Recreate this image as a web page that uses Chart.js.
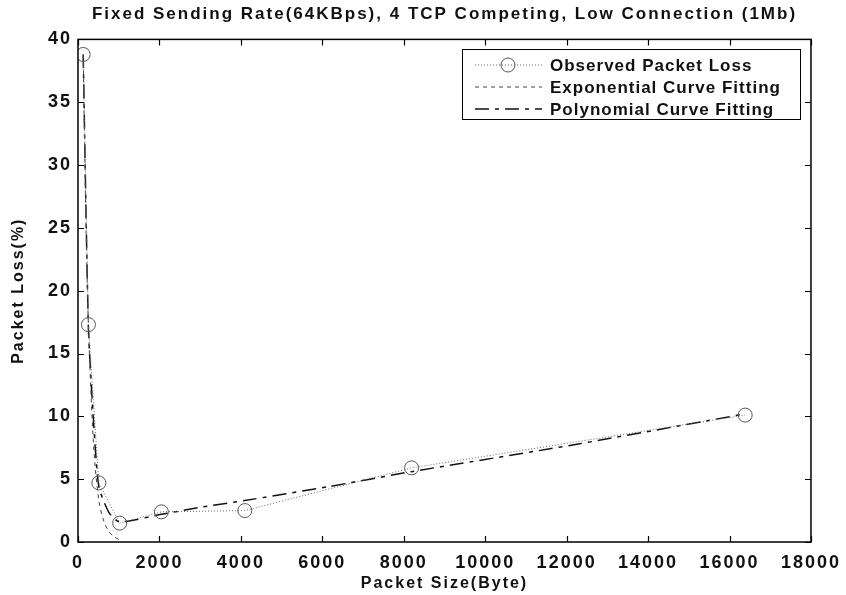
<!DOCTYPE html>
<html>
<head>
<meta charset="utf-8">
<script src="https://cdn.jsdelivr.net/npm/chart.js@4.4.1/dist/chart.umd.min.js"></script>
<style>
  html, body { margin: 0; padding: 0; background: #fff; }
  canvas { display: block; }
</style>
</head>
<body>
<canvas id="loss" width="846" height="595"></canvas>
<script>
// observed measurements
const packetSizes = [128, 256, 512, 1024, 2048, 4096, 8192, 16384];
const observedLoss = [38.8, 17.3, 4.7, 1.5, 2.4, 2.5, 5.9, 10.1];

// exponential fit
const expSizes = [128, 192, 256, 384, 512, 640, 768, 896, 1000];
const expLoss = [38.8, 26.0, 17.2, 7.6, 3.3, 1.6, 0.8, 0.4, 0.2];

// polynomial fit
const polySizes = [128, 256, 384, 512, 768, 1024, 2048, 3072, 4096, 6144, 8192, 12288, 16384];
const polyLoss = [38.8, 17.0, 9.5, 4.4, 2.3, 1.6, 2.2, 2.8, 3.3, 4.4, 5.6, 7.8, 10.2];

const xTicks = [0, 2000, 4000, 6000, 8000, 10000, 12000, 14000, 16000, 18000];
const yTicks = [0, 5, 10, 15, 20, 25, 30, 35, 40];

const legendNames = ["Observed Packet Loss", "Exponential Curve Fitting", "Polynomial Curve Fitting"];

const FONT = "'Liberation Sans', Arial, sans-serif";

function pairs(xs, ys) {
  return xs.map((x, i) => ({ x: x, y: ys[i] }));
}

// scanned matlab lettering is spaced out a bit
const spacing = {
  id: "spacing",
  beforeDraw(chart) {
    chart.ctx.letterSpacing = "2px";
  },
};

// box + inward ticks + legend, matlab style
const matlabFrame = {
  id: "matlabFrame",
  afterDatasetsDraw(chart) {
    const ctx = chart.ctx;
    const a = chart.chartArea;
    const xs = chart.scales.x;
    const ys = chart.scales.y;
    ctx.save();
    ctx.strokeStyle = "#000";
    ctx.lineWidth = 1.5;
    ctx.setLineDash([]);
    ctx.strokeRect(a.left, a.top, a.right - a.left, a.bottom - a.top);

    ctx.lineWidth = 1.2;
    ctx.beginPath();
    xTicks.forEach((v) => {
      const px = Math.round(xs.getPixelForValue(v)) + 0.5;
      ctx.moveTo(px, a.bottom); ctx.lineTo(px, a.bottom - 6);
      ctx.moveTo(px, a.top); ctx.lineTo(px, a.top + 6);
    });
    yTicks.forEach((v) => {
      const py = Math.round(ys.getPixelForValue(v)) + 0.5;
      ctx.moveTo(a.left, py); ctx.lineTo(a.left + 6, py);
      ctx.moveTo(a.right, py); ctx.lineTo(a.right - 6, py);
    });
    ctx.stroke();

    // legend
    const bx = 462, by = 49, bw = 338, bh = 70;
    ctx.fillStyle = "#fff";
    ctx.fillRect(bx, by, bw, bh);
    ctx.strokeStyle = "#000";
    ctx.lineWidth = 1;
    ctx.strokeRect(bx + 0.5, by + 0.5, bw, bh);

    ctx.font = "bold 17px " + FONT;
    ctx.letterSpacing = "1px";
    ctx.textBaseline = "middle";
    ctx.textAlign = "left";
    chart.data.datasets.forEach((ds, i) => {
      const y = by + 16 + i * 22;
      ctx.strokeStyle = ds.borderColor;
      ctx.lineWidth = ds.borderWidth;
      ctx.setLineDash(ds.borderDash || []);
      ctx.beginPath();
      ctx.moveTo(475, y);
      ctx.lineTo(542, y);
      ctx.stroke();
      ctx.setLineDash([]);
      if (ds.pointRadius > 0) {
        ctx.lineWidth = 1;
        ctx.strokeStyle = ds.pointBorderColor;
        ctx.beginPath();
        ctx.arc(508, y, ds.pointRadius, 0, Math.PI * 2);
        ctx.stroke();
      }
      ctx.fillStyle = "#111";
      ctx.fillText(legendNames[i], 550, y + 1);
    });
    ctx.restore();
  },
};

new Chart(document.getElementById("loss"), {
  type: "line",
  data: {
    datasets: [
      {
        label: legendNames[0],
        data: pairs(packetSizes, observedLoss),
        borderColor: "#666",
        borderWidth: 1,
        borderDash: [1, 2],
        pointRadius: 7,
        pointBorderColor: "#555",
        pointBorderWidth: 1,
        pointBackgroundColor: "rgba(0,0,0,0)",
        fill: false,
        tension: 0,
      },
      {
        label: legendNames[1],
        data: pairs(expSizes, expLoss),
        borderColor: "#444",
        borderWidth: 1,
        borderDash: [4, 4],
        pointRadius: 0,
        fill: false,
        tension: 0.3,
      },
      {
        label: legendNames[2],
        data: pairs(polySizes, polyLoss),
        borderColor: "#111",
        borderWidth: 1.5,
        borderDash: [14, 6, 4, 6],
        pointRadius: 0,
        fill: false,
        tension: 0.2,
      },
    ],
  },
  options: {
    responsive: false,
    animation: false,
    layout: { padding: { left: 0, right: 32, top: 0, bottom: 0 } },
    plugins: {
      legend: { display: false },
      tooltip: { enabled: false },
      title: {
        display: true,
        fullSize: false,
        text: "Fixed Sending Rate(64KBps), 4 TCP Competing, Low Connection (1Mb)",
        color: "#111",
        font: { family: FONT, size: 17, weight: "bold" },
        padding: { top: 4, bottom: 15 },
      },
    },
    scales: {
      x: {
        type: "linear",
        min: 0,
        max: 18000,
        afterBuildTicks: (s) => { s.ticks = xTicks.map((v) => ({ value: v })); },
        afterFit: (s) => { s.height = 53; },
        grid: { display: false, drawTicks: false },
        border: { display: false },
        ticks: {
          color: "#111",
          padding: 10,
          maxRotation: 0,
          font: { family: FONT, size: 18, weight: "bold" },
          callback: (v) => String(v),
        },
        title: {
          display: true,
          text: "Packet Size(Byte)",
          color: "#111",
          font: { family: FONT, size: 16, weight: "bold" },
          padding: { top: 0, bottom: 2 },
        },
      },
      y: {
        min: 0,
        max: 40,
        afterBuildTicks: (s) => { s.ticks = yTicks.map((v) => ({ value: v })); },
        afterFit: (s) => { s.width = 78; },
        grid: { display: false, drawTicks: false },
        border: { display: false },
        ticks: {
          color: "#111",
          padding: 6,
          font: { family: FONT, size: 18, weight: "bold" },
          callback: (v) => String(v),
        },
        title: {
          display: true,
          text: "Packet Loss(%)",
          color: "#111",
          font: { family: FONT, size: 16, weight: "bold" },
          padding: { top: 9, bottom: 0 },
        },
      },
    },
  },
  plugins: [spacing, matlabFrame],
});
</script>
</body>
</html>
